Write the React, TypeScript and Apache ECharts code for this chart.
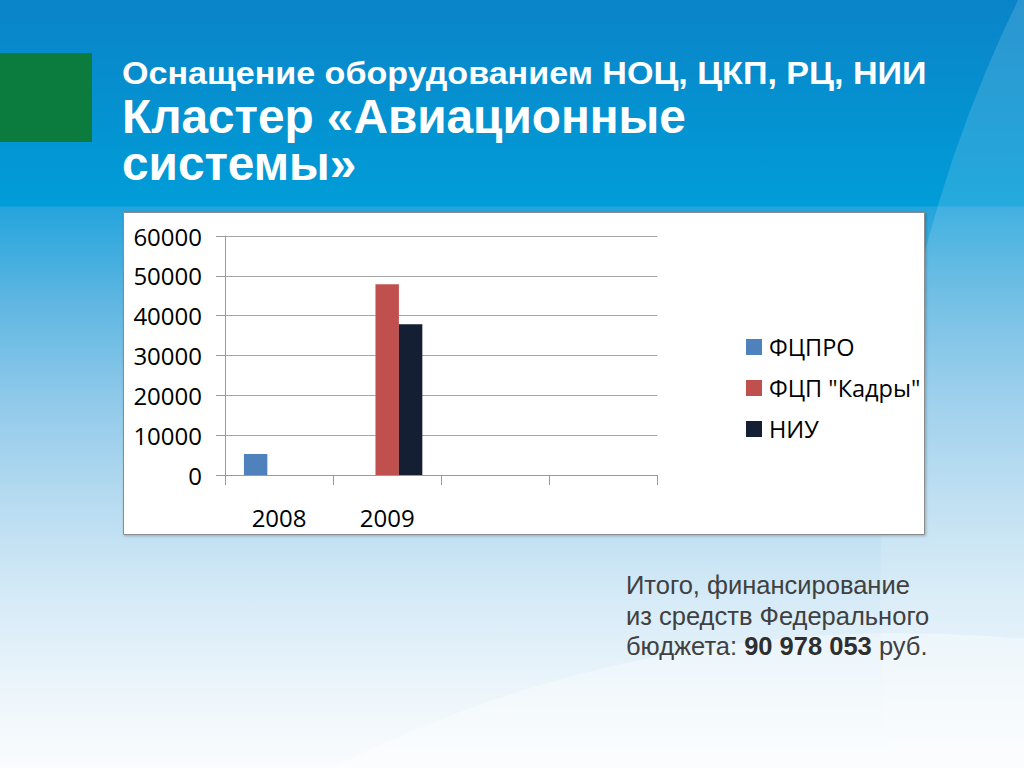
import React, { useEffect, useRef } from "react";
import * as echarts from "echarts";

const categories = ["2008", "2009", "", ""];
const seriesNames = ["ФЦПРО", "ФЦП \"Кадры\"", "НИУ"];
const fcpro = [5270, null, null, null];
const kadry = [null, 47870, null, null];
const niu = [null, 37840, null, null];
const yTicks = { min: 0, max: 60000, interval: 10000 };
const colors = ["#4f81bd", "#c0504d", "#141f33"];

const titleLine1 = "Оснащение оборудованием НОЦ, ЦКП, РЦ, НИИ";
const titleLine2 = "Кластер «Авиационные";
const titleLine3 = "системы»";
const noteLine1 = "Итого, финансирование";
const noteLine2 = "из средств Федерального";
const noteLine3a = "бюджета: ";
const noteLine3b = "90 978 053";
const noteLine3c = " руб.";

export default function App() {
  const ref = useRef<HTMLDivElement>(null);
  useEffect(() => {
    if (!ref.current) return;
    const chart = echarts.init(ref.current, undefined, { renderer: "svg" });
    const labelFont = "'Open Sans', 'Noto Sans', sans-serif";
    const titleFont = "'Liberation Sans', Arial, sans-serif";
    const noteFont = "'Liberation Sans', Arial, sans-serif";
    const mk = (name: string, data: (number | null)[], i: number) => ({
      name,
      type: "bar",
      data,
      barGap: "0%",
      barCategoryGap: "35%",
      itemStyle: { color: colors[i] },
      z: 3,
    });
    const titleText = (text: string, x: number, y: number, size: number, sx: number, lh: number) => ({
      type: "text",
      x,
      y,
      scaleX: sx,
      style: {
        text,
        x: 0,
        y: 0,
        fill: "#ffffff",
        font: `bold ${size}px ${titleFont}`,
        lineHeight: lh,
        textVerticalAlign: "middle",
      },
    });
    const noteText = (text: string, y: number) => ({
      type: "text",
      style: {
        text,
        x: 626,
        y,
        fill: "#404040",
        font: `25.5px ${noteFont}`,
        lineHeight: 26,
        textVerticalAlign: "middle",
      },
    });
    chart.setOption({
      animation: false,
      backgroundColor: "transparent",
      graphic: [
        {
          type: "circle",
          shape: { cx: 2253, cy: 600, r: 1373 },
          style: { fill: "rgba(255,255,255,0.14)" },
          z: -10,
          silent: true,
        },
        {
          type: "circle",
          shape: { cx: 900, cy: 1900, r: 1267 },
          style: { fill: "rgba(255,255,255,0.35)" },
          z: -10,
          silent: true,
        },
        {
          type: "rect",
          shape: { x: 0, y: 53, width: 92, height: 89 },
          style: { fill: "#0b7b3e" },
          z: -5,
        },
        {
          type: "rect",
          shape: { x: 123.5, y: 212.5, width: 801, height: 322 },
          style: {
            fill: "#ffffff",
            stroke: "#8c8c8c",
            lineWidth: 1,
            shadowBlur: 3,
            shadowColor: "rgba(0,0,0,0.25)",
            shadowOffsetX: 1,
            shadowOffsetY: 1,
          },
          z: -5,
        },
        titleText(titleLine1, 122, 73, 32, 1.065, 30),
        titleText(`${titleLine2}\n${titleLine3}`, 122, 140, 47.5, 1.005, 47),
        noteText(noteLine1, 584.5),
        noteText(noteLine2, 615.5),
        {
          type: "text",
          style: {
            text: `{a|${noteLine3a}}{b|${noteLine3b}}{a|${noteLine3c}}`,
            x: 626,
            y: 645.5,
            textVerticalAlign: "middle",
            rich: {
              a: { fill: "#404040", font: `25.5px ${noteFont}`, lineHeight: 26 },
              b: { fill: "#2e2e2e", font: `bold 25.5px ${noteFont}`, lineHeight: 26 },
            },
          },
        },
      ],
      grid: { left: 225, top: 236, width: 432.5, height: 239, containLabel: false },
      legend: {
        orient: "vertical",
        left: 741,
        top: 330,
        itemWidth: 16,
        itemHeight: 16,
        itemGap: 17,
        icon: "rect",
        data: seriesNames,
        textStyle: {
          fontFamily: labelFont,
          fontSize: 23.5,
          lineHeight: 24,
          color: "#000000",
          padding: [0, 0, 0, 2],
        },
      },
      xAxis: {
        type: "category",
        data: categories,
        axisLine: { lineStyle: { color: "#9a9a9a", width: 1 } },
        axisTick: { show: true, length: 10, lineStyle: { color: "#9a9a9a" } },
        axisLabel: {
          color: "#000",
          fontFamily: labelFont,
          fontSize: 24,
          margin: 30,
          interval: 0,
        },
      },
      yAxis: {
        type: "value",
        min: yTicks.min,
        max: yTicks.max,
        interval: yTicks.interval,
        axisLine: { show: true, lineStyle: { color: "#9a9a9a", width: 1 } },
        axisTick: { show: true, length: 9, lineStyle: { color: "#9a9a9a" } },
        splitLine: { lineStyle: { color: "#a6a6a6", width: 1 } },
        axisLabel: {
          color: "#000",
          fontFamily: labelFont,
          fontSize: 24,
          margin: 23,
          formatter: (v: number) => String(v),
        },
      },
      series: [mk(seriesNames[0], fcpro, 0), mk(seriesNames[1], kadry, 1), mk(seriesNames[2], niu, 2)],
    });
    return () => chart.dispose();
  }, []);
  return (
    <div
      style={{
        position: "fixed",
        left: 0,
        top: 0,
        width: 1024,
        height: 768,
        overflow: "hidden",
        background:
          "linear-gradient(to bottom, #0a84c8 0px, #009dd8 206px, #24a4dc 207px, #5db6e1 300px, #8fc9ea 400px, #b6dbf0 500px, #d6ebf7 600px, #eef6fb 700px, #fafcfe 768px)",
      }}
    >
      <div ref={ref} style={{ width: 1024, height: 768 }} />
    </div>
  );
}
